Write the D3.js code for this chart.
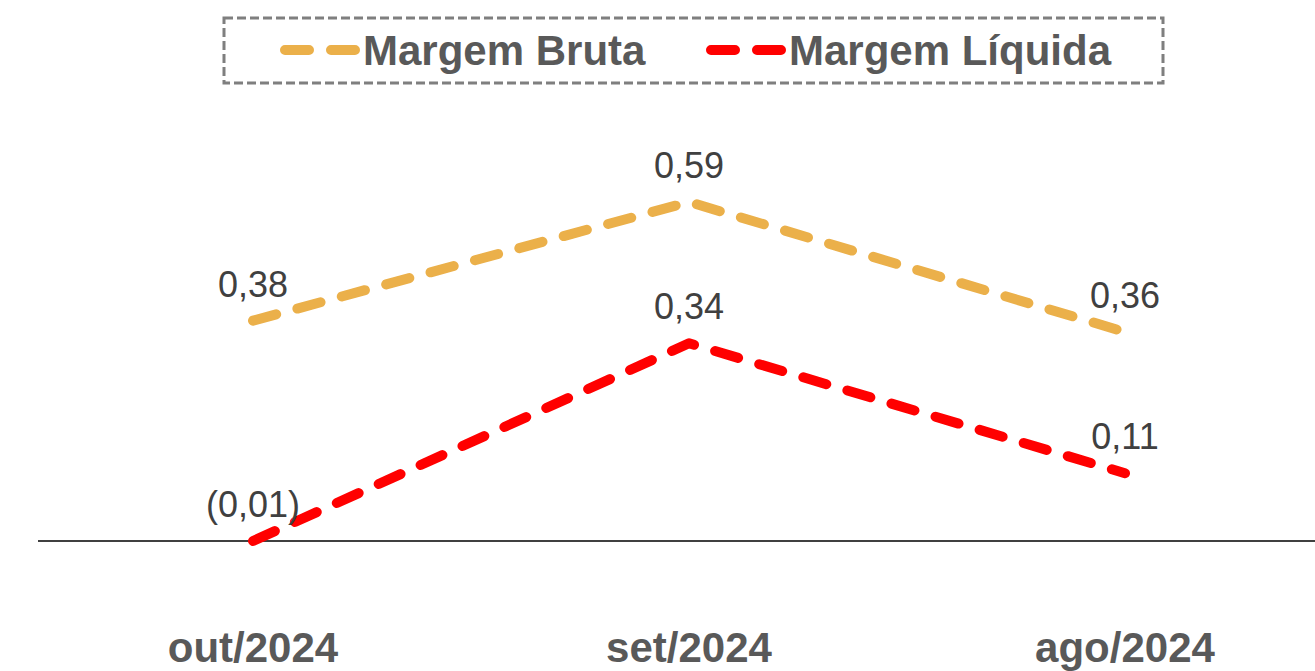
<!DOCTYPE html>
<html lang="pt">
<head>
<meta charset="UTF-8">
<title>Margens</title>
<script src="https://d3js.org/d3.v7.min.js"></script>
<style>
    body { margin: 0; background: #fff; }
    svg { display: block; font-family: "Liberation Sans", Arial, sans-serif; }
</style>
</head>
<body>
<div id="chart"></div>
<script>
    var categories = ["out/2024", "set/2024", "ago/2024"];
    var margemBruta = [0.38, 0.59, 0.36];
    var margemLiquida = [-0.01, 0.34, 0.11];
    var seriesNames = ["Margem Bruta", "Margem Líquida"];
    var seriesColors = ["#EBB04A", "#FF0000"];

    var width = 1315, height = 671;

    var svg = d3.select("#chart").append("svg")
        .attr("width", width)
        .attr("height", height);

    // band scale, category centers at ~253 / 689 / 1125
    var x = d3.scaleBand()
        .domain(categories)
        .range([35, 1343]);

    var y = d3.scaleLinear()
        .domain([-0.01, 0.59])
        .range([541, 202]);

    function fmt(v) {
        var s = Math.abs(v).toFixed(2).replace(".", ",");
        return v < 0 ? "(" + s + ")" : s;
    }

    // horizontal axis line
    svg.append("line")
        .attr("x1", 38).attr("x2", width)
        .attr("y1", y(-0.01)).attr("y2", y(-0.01))
        .attr("stroke", "#000")
        .attr("stroke-width", 1.5);

    // category labels
    svg.selectAll(".cat")
        .data(categories)
        .enter().append("text")
        .attr("class", "cat")
        .attr("x", function(d) { return x(d) + x.bandwidth() / 2; })
        .attr("y", 662)
        .attr("text-anchor", "middle")
        .attr("font-size", 42)
        .attr("font-weight", "bold")
        .attr("fill", "#595959")
        .text(function(d) { return d; });

    var line = d3.line()
        .x(function(d, i) { return x(categories[i]) + x.bandwidth() / 2; })
        .y(function(d) { return y(d); });

    var allSeries = [margemBruta, margemLiquida];

    allSeries.forEach(function(vals, s) {
        svg.append("path")
            .datum(vals)
            .attr("d", line)
            .attr("fill", "none")
            .attr("stroke", seriesColors[s])
            .attr("stroke-width", 10)
            .attr("stroke-linecap", "round")
            .attr("stroke-linejoin", "round")
            .attr("stroke-dasharray", "24,22");

        svg.selectAll(".lbl" + s)
            .data(vals)
            .enter().append("text")
            .attr("class", "lbl" + s)
            .attr("x", function(d, i) { return x(categories[i]) + x.bandwidth() / 2; })
            .attr("y", function(d) { return y(d) - 24; })
            .attr("text-anchor", "middle")
            .attr("font-size", 36)
            .attr("fill", "#404040")
            .text(function(d) { return fmt(d); });
    });

    // legend
    var legend = svg.append("g");
    legend.append("rect")
        .attr("x", 224).attr("y", 18)
        .attr("width", 939).attr("height", 65)
        .attr("fill", "none")
        .attr("stroke", "#7F7F7F")
        .attr("stroke-width", 3)
        .attr("stroke-dasharray", "9,4");

    var legendX = [285, 711];
    seriesNames.forEach(function(name, s) {
        legend.append("line")
            .attr("x1", legendX[s]).attr("x2", legendX[s] + 70)
            .attr("y1", 50).attr("y2", 50)
            .attr("stroke", seriesColors[s])
            .attr("stroke-width", 10)
            .attr("stroke-linecap", "round")
            .attr("stroke-dasharray", "24,22");
        legend.append("text")
            .attr("x", legendX[s] + 78)
            .attr("y", 65)
            .attr("font-size", 42)
            .attr("font-weight", "bold")
            .attr("fill", "#595959")
            .text(name);
    });
</script>
</body>
</html>
